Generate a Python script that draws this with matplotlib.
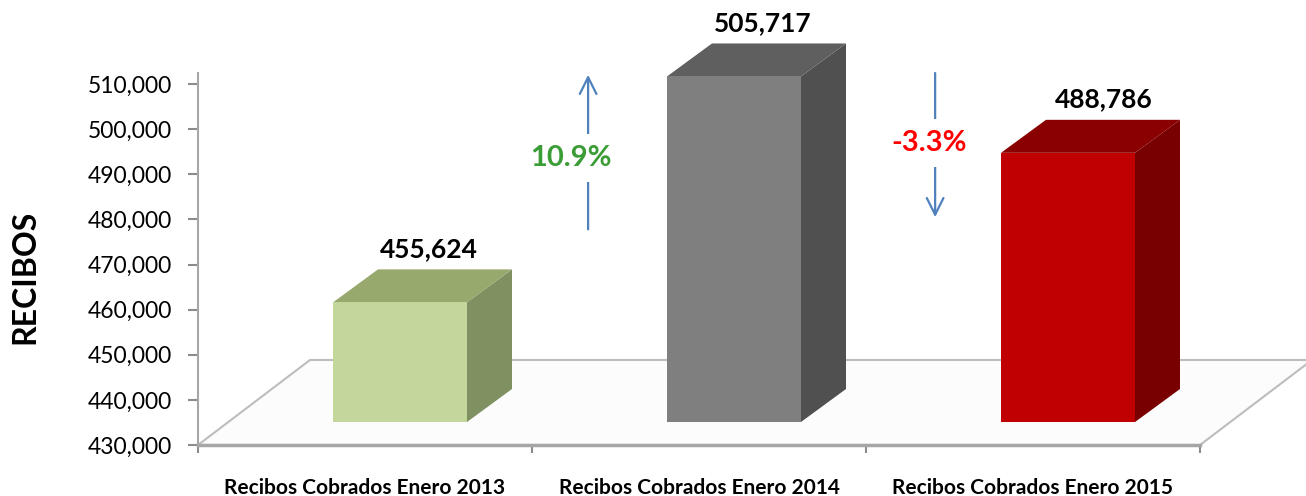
import matplotlib
matplotlib.use("Agg")
import matplotlib.pyplot as plt
from matplotlib.patches import Polygon
from matplotlib.ticker import FuncFormatter

plt.rcParams['font.family'] = ['Lato', 'DejaVu Sans']

categories = ['Recibos Cobrados Enero 2013', 'Recibos Cobrados Enero 2014', 'Recibos Cobrados Enero 2015']
values = [455624, 505717, 488786]
value_labels = ['455,624', '505,717', '488,786']
change_labels = ['10.9%', '-3.3%']
change_colors = ['#3a9c35', '#ff0000']
yticks = [430000, 440000, 450000, 460000, 470000, 480000, 490000, 500000, 510000]

front_cols = ['#c3d69b', '#7f7f7f', '#c00000']
top_cols = ['#98a96e', '#5f5f5f', '#8a0000']
side_cols = ['#7f9161', '#505050', '#780000']

W, H = 1306, 496
fig = plt.figure(figsize=(W / 100, H / 100), dpi=100)
ax = fig.add_axes([198 / W, 51 / H, 1108 / W, 445 / H])

ppx = 10000 / 45.1          # value units per pixel
cat_px = 334.0              # pixels per category
ymin = 430000
ax.set_xlim(0, 1108 / cat_px)
ax.set_ylim(ymin, ymin + 445 * ppx)

# floor (3D perspective)
fdx, fdy = 112 / cat_px, 85 * ppx
n = len(categories)
floor = Polygon([(0, ymin), (n, ymin), (n + fdx, ymin + fdy), (fdx, ymin + fdy)],
                closed=True, facecolor='#fcfcfc', edgecolor='#bdbdbd', lw=1.5,
                zorder=1, clip_on=False)
ax.add_patch(floor)
ax.plot([0, n], [ymin, ymin], color='#a6a6a6', lw=2.5, zorder=2, clip_on=False)

# bars
bw = 134 / cat_px
bdx, bdy = 45 / cat_px, 33 * ppx
base = ymin + 23 * ppx
for i, v in enumerate(values):
    xl = i + 135 / cat_px
    xr = xl + bw
    top = v + 6000
    side = Polygon([(xr, base), (xr, top), (xr + bdx, top + bdy), (xr + bdx, base + bdy)],
                   closed=True, facecolor=side_cols[i], edgecolor='none', zorder=3)
    topf = Polygon([(xl, top), (xr, top), (xr + bdx, top + bdy), (xl + bdx, top + bdy)],
                   closed=True, facecolor=top_cols[i], edgecolor='none', zorder=3)
    front = Polygon([(xl, base), (xr, base), (xr, top), (xl, top)],
                    closed=True, facecolor=front_cols[i], edgecolor='none', zorder=4)
    for p in (side, topf, front):
        ax.add_patch(p)
    ax.annotate(value_labels[i], xy=(xl + (bw + bdx) / 2 + 0.02 + 0.02 * (i == 2), top + bdy),
                xytext=(0, 6), textcoords='offset points', ha='center', va='bottom',
                fontsize=19, fontweight='bold', color='black', zorder=5,
                annotation_clip=False)

# change arrows
arrow_kw = dict(arrowstyle='->', color='#4f81bd', lw=1.6, mutation_scale=30)
ax.annotate('', xy=(1.168, 512700), xytext=(1.168, 477200), arrowprops=arrow_kw, zorder=5)
ax.annotate('', xy=(2.207, 479900), xytext=(2.207, 513100), arrowprops=arrow_kw, zorder=5)
ax.text(1.117, 493600, change_labels[0], ha='center', va='center', fontsize=21,
        fontweight='bold', color=change_colors[0], zorder=6,
        bbox=dict(facecolor='white', edgecolor='none', pad=8))
ax.text(2.19, 497000, change_labels[1], ha='center', va='center', fontsize=21,
        fontweight='bold', color=change_colors[1], zorder=6,
        bbox=dict(facecolor='white', edgecolor='none', pad=8))

# axes styling
for s in ['top', 'right', 'bottom']:
    ax.spines[s].set_visible(False)
ax.spines['left'].set_color('#a6a6a6')
ax.spines['left'].set_linewidth(1.5)
ax.spines['left'].set_bounds(ymin, 512500)
ax.set_yticks(yticks)
ax.yaxis.set_major_formatter(FuncFormatter(lambda v, p: f'{int(v):,}'))
ax.tick_params(axis='y', length=7, width=1.5, color='#8c8c8c', labelsize=16.5, pad=12)

ax.set_xticks(range(n + 1))
ax.set_xticklabels([''] * (n + 1))
ax.tick_params(axis='x', which='major', length=6, width=1.5, color='#8c8c8c')
ax.set_xticks([i + 0.5 for i in range(n)], minor=True)
ax.set_xticklabels(categories, minor=True, fontsize=15, fontweight='bold')
ax.tick_params(axis='x', which='minor', length=0, pad=24)

fig.text(25 / W, 1 - 277 / H, 'RECIBOS', rotation=90, ha='center', va='center',
         fontsize=23, fontweight='bold')

fig.savefig('out.png', dpi=100, facecolor='white')
